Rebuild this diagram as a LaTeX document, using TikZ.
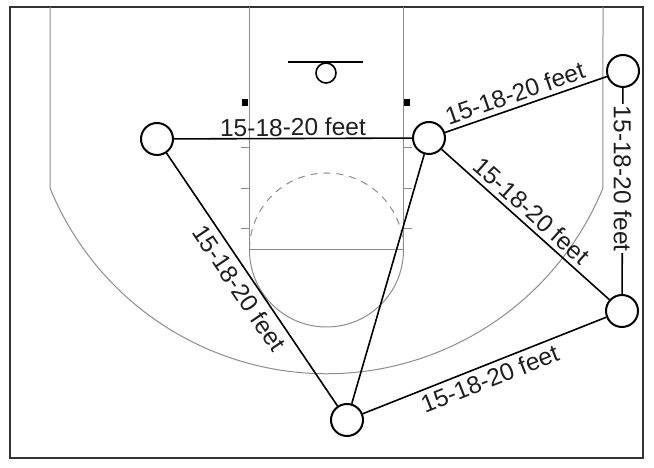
\documentclass[tikz,border=0pt]{standalone}
\usepackage{fontspec}
\setmainfont{Liberation Sans}
\definecolor{courtgray}{HTML}{8C8C8C}
\definecolor{frame}{HTML}{333333}
\definecolor{ink}{HTML}{1E1E1E}
\begin{document}
\begin{tikzpicture}[x=1pt,y=1pt,
  court/.style={draw=courtgray,line width=1pt},
  player/.style={circle,draw=black,fill=white,line width=2pt,minimum size=32pt,inner sep=0pt},
  link/.style={draw=black,line width=1.6pt},
  distbase/.style={font=\fontsize{24.5}{28}\selectfont,text=ink,inner sep=1.5pt},
  dist/.style={distbase,sloped}
]
\useasboundingbox (0,0) rectangle (654,468);
% outer frame
\draw[frame,line width=2pt] (10,10) rectangle (643,461);
% three point line
\draw[court] (50,461) -- (50,280) arc[start angle=202.23,end angle=337.77,radius=298.7pt] -- (603,461);
% lane
\draw[court] (249.5,461) -- (249.5,218) -- (403.5,218) -- (403.5,461);
% free throw circle
\draw[court] (249.5,218) arc[start angle=180,end angle=360,radius=77pt];
\draw[court,dash pattern=on 7pt off 6pt] (403.5,218) arc[start angle=0,end angle=180,radius=77pt];
% hash marks
\foreach \yy in {320,279,239}{
  \draw[court] (241,\yy) -- (249.5,\yy);
  \draw[court] (403.5,\yy) -- (412,\yy);
}
% blocks
\fill[black] (242,361.5) rectangle (248,368.5);
\fill[black] (404,361.5) rectangle (410,368.5);
% backboard and ring
\draw[black,line width=1.6pt] (288,406) -- (363,406);
\node[circle,draw=black,line width=1.6pt,minimum size=20pt,inner sep=0pt] (ring) at (326,395) {};
% players
\node[player] (p1) at (157,329) {};
\node[player] (p2) at (429,330) {};
\node[player] (p3) at (623,397) {};
\node[player] (p4) at (622,157) {};
\node[player] (p5) at (347,48) {};
% connectors
\draw[link] (p1) -- node[dist,above] {15-18-20 feet} (p2);
\draw[link] (p2) -- node[dist,above=3pt,pos=0.46] {15-18-20 feet} (p3);
\draw[link] (p2) -- node[dist,above=3pt,pos=0.48] {15-18-20 feet} (p4);
\draw[link] (p1) -- node[dist,below=4pt] {15-18-20 feet} (p5);
\draw[link] (p2) -- (p5);
\draw[link] (p5) -- node[dist,below=3pt] {15-18-20 feet} (p4);
\draw[link] (p3) -- node[distbase,rotate=-90,fill=white,pos=0.44] {15-18-20 feet} (p4);
\end{tikzpicture}
\end{document}
